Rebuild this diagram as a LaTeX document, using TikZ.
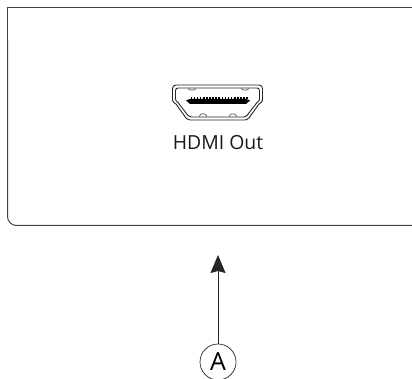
\documentclass[tikz,border=0pt]{standalone}
\usepackage{fontspec}
\setmainfont{Open Sans}
\usetikzlibrary{arrows.meta,positioning}
\tikzset{
    portline/.style={draw=black!85,line width=0.9pt,line join=round},
    callout/.style={circle,draw=black!85,line width=0.7pt,minimum size=36pt,inner sep=0pt,font=\fontsize{25}{25}\selectfont},
    portlabel/.style={font=\fontsize{19.4}{22}\selectfont,text=black!90,inner sep=0pt}
}
\begin{document}
\begin{tikzpicture}[x=1pt,y=-1pt]
    \clip (0,0) rectangle (412,379);
    \useasboundingbox (0,0) rectangle (412,379);
    % panel outline
    \draw[black!75,line width=1pt] (416,7.5) -- (7.5,7.5) -- (7.5,40);
    \draw[black!75,line width=1pt,rounded corners=9pt] (7.5,40) -- (7.5,225.5) -- (416,225.5);
    % port outer and inner shell
    \draw[portline] (176,85) -- (259,85) to[out=0,in=90] (262.5,88.5) -- (262.5,100) to[out=-90,in=30] (259,104) -- (249,118) to[out=-150,in=0] (245,120) -- (190,120) to[out=180,in=-30] (186,118) -- (176,104) to[out=150,in=-90] (172.5,100) -- (172.5,88.5) to[out=90,in=180] (176,85) -- cycle;
    \draw[portline] (178,88) -- (257,88) to[out=0,in=90] (259.5,90.5) -- (259.5,99) to[out=-90,in=30] (257,102.5) -- (247,115.5) to[out=-150,in=0] (244,117) -- (191,117) to[out=180,in=-30] (188,115.5) -- (178,102.5) to[out=150,in=-90] (175.5,99) -- (175.5,90.5) to[out=90,in=180] (178,88) -- cycle;
    % notches on the shell
    \draw[black!70,line width=0.6pt] (188,88.5) -- (190,90) -- (194,90) -- (196,88.5);
    \draw[black!70,line width=0.6pt] (241,88.5) -- (243,90) -- (247,90) -- (249,88.5);
    \draw[black!70,line width=0.6pt] (199,116.5) -- (201,114) -- (205,114) -- (207,116.5);
    \draw[black!70,line width=0.6pt] (229,116.5) -- (231,114) -- (235,114) -- (237,116.5);
    % contact bar
    \fill[black] (186,100.5) -- (190,99) -- (246,99) -- (250,100.5) -- (246,104) -- (190,104) -- cycle;
    \foreach \i in {0,...,18}
        \fill[black] ({190.5+3.1*\i},97.5) rectangle ++(1.6,2);
    % label
    \node[portlabel] (hdmiLabel) at (218,142.5) {HDMI Out};
    % callout and arrow
    \node[callout] (calloutA) at (218,362) {A};
    \coordinate (arrowTip) at (218,255);
    \draw[-{Stealth[length=18pt,width=15pt,inset=2pt]},black!85,line width=0.7pt] (calloutA) -- (arrowTip);
\end{tikzpicture}
\end{document}
